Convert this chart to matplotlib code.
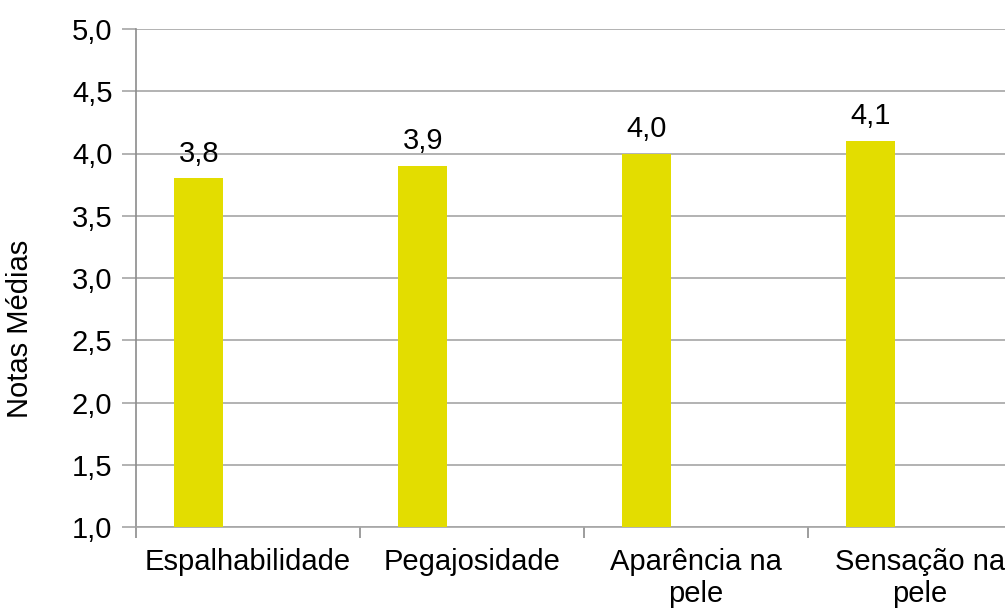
import matplotlib
matplotlib.use("Agg")
import matplotlib.pyplot as plt
import numpy as np

# ====== DATA ======================================
categories = ["Espalhabilidade", "Pegajosidade", "Aparência na\npele", "Sensação na\npele"]
notas = [3.8, 3.9, 4.0, 4.1]
y_ticks = [1.0, 1.5, 2.0, 2.5, 3.0, 3.5, 4.0, 4.5, 5.0]

BAR_COLOR = "#E3DD00"
GRID_COLOR = "#A6A6A6"
AXIS_COLOR = "#8C8C8C"
FS = 21

plt.rcParams["font.family"] = ["Liberation Sans", "DejaVu Sans"]

fig = plt.figure(figsize=(10.05, 6.08), dpi=100)
# axis runs past the right edge of the picture, as in the original
ax = fig.add_axes([136 / 1005, 1 - 527 / 608, 896 / 1005, 498 / 608])

x = np.arange(len(categories))
bar_w = 0.22
bars = ax.bar(x - bar_w / 2 - 0.11, notas, width=bar_w, bottom=0,
              color=BAR_COLOR, zorder=3)

for b, v in zip(bars, notas):
    ax.annotate(f"{v:.1f}".replace(".", ","),
                (b.get_x() + b.get_width() / 2, v),
                xytext=(0, 12), textcoords="offset points",
                ha="center", va="baseline", fontsize=FS, color="black")

ax.set_ylim(1.0, 5.0)
ax.set_yticks(y_ticks)
ax.set_yticklabels([f"{t:.1f}".replace(".", ",") for t in y_ticks])
ax.yaxis.grid(True, color=GRID_COLOR, linewidth=1.2, zorder=0)

ax.set_xlim(-0.5, len(categories) - 0.5)
ax.set_xticks(x)
ax.set_xticklabels(categories, fontsize=FS, linespacing=1.2)
ax.set_xticks(np.arange(len(categories) + 1) - 0.5, minor=True)
ax.tick_params(axis="x", which="major", length=0, pad=15)
ax.tick_params(axis="x", which="minor", length=8, width=1.2, color=AXIS_COLOR)
ax.tick_params(axis="y", length=10, width=1.2, color=GRID_COLOR, labelsize=FS, pad=7)

for s in ["top", "right"]:
    ax.spines[s].set_visible(False)
ax.spines["left"].set_color(AXIS_COLOR)
ax.spines["left"].set_linewidth(1.2)
ax.spines["bottom"].set_color(GRID_COLOR)
ax.spines["bottom"].set_linewidth(1.2)

ax.set_ylabel("Notas Médias", fontsize=FS)
ax.yaxis.set_label_coords(-0.114, 0.398)

fig.savefig("out.png", dpi=100)
